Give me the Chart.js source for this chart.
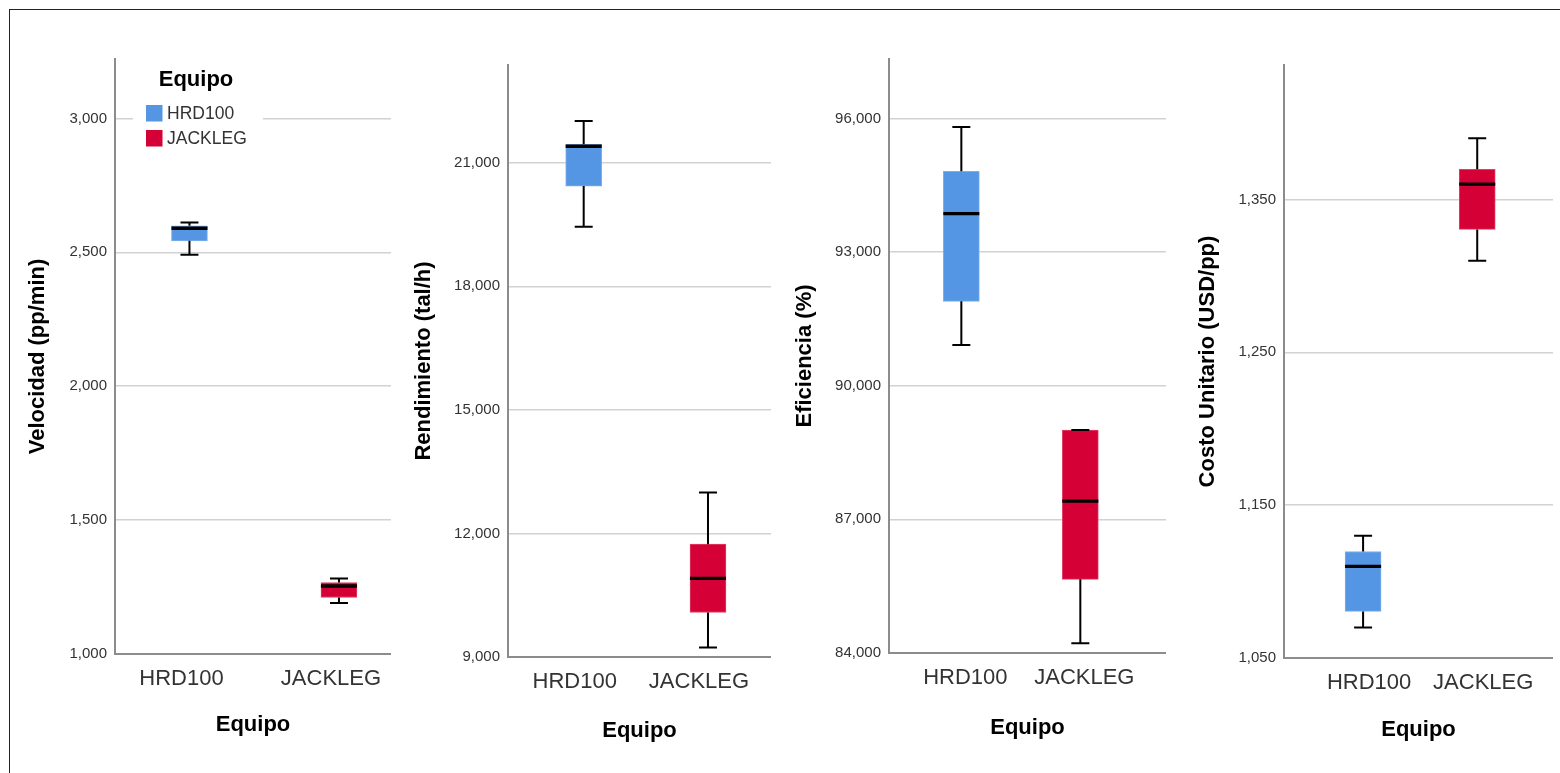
<!DOCTYPE html>
<html>
<head>
<meta charset="utf-8">
<script src="https://cdn.jsdelivr.net/npm/chart.js@4/dist/chart.umd.min.js"></script>
<style>
html,body{margin:0;padding:0;background:#fff;width:1560px;height:773px;overflow:hidden;}
#frame{position:absolute;left:9px;top:9px;width:1600px;height:800px;border-top:1px solid #222;border-left:1px solid #222;}
.panel{position:absolute;top:0;height:773px;}
</style>
</head>
<body>
<div id="frame"></div>
<div class="panel" style="left:12px;width:379px"><canvas id="c1"></canvas></div>
<div class="panel" style="left:400px;width:371px"><canvas id="c2"></canvas></div>
<div class="panel" style="left:780px;width:386px"><canvas id="c3"></canvas></div>
<div class="panel" style="left:1170px;width:383px"><canvas id="c4"></canvas></div>
<script>
// ---------- data ----------
const categories = ['HRD100', 'JACKLEG'];
const legendTitle = 'Equipo';
const xTitle = 'Equipo';

const velocidadTitle = 'Velocidad (pp/min)';
const velocidadMin = [2491, 1190];
const velocidadQ1 = [2543, 1211];
const velocidadMedian = [2590, 1254];
const velocidadQ3 = [2599, 1267];
const velocidadMax = [2611, 1282];
const velocidadTicks = [1000, 1500, 2000, 2500, 3000];

const rendimientoTitle = 'Rendimiento (tal/h)';
const rendimientoMin = [19446, 9231];
const rendimientoQ1 = [20434, 10081];
const rendimientoMedian = [21400, 10907];
const rendimientoQ3 = [21450, 11740];
const rendimientoMax = [22013, 12996];
const rendimientoTicks = [9000, 12000, 15000, 18000, 21000];

const eficienciaTitle = 'Eficiencia (%)';
const eficienciaMin = [90915, 84217];
const eficienciaQ1 = [91893, 85654];
const eficienciaMedian = [93861, 87411];
const eficienciaQ3 = [94811, 89004];
const eficienciaMax = [95807, 89004];
const eficienciaTicks = [84000, 87000, 90000, 93000, 96000];

const costoTitle = 'Costo Unitario (USD/pp)';
const costoMin = [1070, 1310];
const costoQ1 = [1080.5, 1330.4];
const costoMedian = [1110, 1360];
const costoQ3 = [1119.7, 1369.8];
const costoMax = [1130, 1390];
const costoTicks = [1050, 1150, 1250, 1350];

// ---------- styling ----------
const FONT = "'Liberation Sans', Arial, sans-serif";
Chart.defaults.font.family = FONT;
const fillColors = ['#5596E4', '#D50035'];
const edgeColors = ['#7DAFEB', '#E04068'];

function whiskerPlugin(s) {
  return {
    id: 'whiskers',
    afterDatasetsDraw(chart) {
      const ctx = chart.ctx, x = chart.scales.x, y = chart.scales.y;
      ctx.save();
      ctx.strokeStyle = '#000';
      categories.forEach((c, i) => {
        const px = x.getPixelForValue(i + 1);
        ctx.lineWidth = 2;
        ctx.beginPath();
        ctx.moveTo(px, y.getPixelForValue(s.max[i])); ctx.lineTo(px, y.getPixelForValue(s.q3[i]));
        ctx.moveTo(px, y.getPixelForValue(s.q1[i])); ctx.lineTo(px, y.getPixelForValue(s.min[i]));
        [s.max[i], s.min[i]].forEach(v => {
          const py = y.getPixelForValue(v);
          ctx.moveTo(px - 9, py); ctx.lineTo(px + 9, py);
        });
        ctx.stroke();
        ctx.lineWidth = 3.3;
        ctx.beginPath();
        const pm = y.getPixelForValue(s.median[i]);
        ctx.moveTo(px - 18, pm); ctx.lineTo(px + 18, pm);
        ctx.stroke();
      });
      ctx.restore();
    }
  };
}

const legendPlugin = {
  id: 'boxLegend',
  afterDraw(chart) {
    const ctx = chart.ctx;
    ctx.save();
    ctx.fillStyle = '#fff';
    ctx.fillRect(121, 48, 130, 102);
    ctx.fillStyle = '#000';
    ctx.font = 'bold 22px ' + FONT;
    ctx.textAlign = 'center';
    ctx.textBaseline = 'middle';
    ctx.fillText(legendTitle, 184, 80);
    ctx.textAlign = 'left';
    ctx.font = '17.5px ' + FONT;
    const ys = [113, 138];
    categories.forEach((c, i) => {
      ctx.fillStyle = fillColors[i];
      ctx.fillRect(134, ys[i] - 8, 16.5, 16.5);
      ctx.fillStyle = '#333';
      ctx.fillText(c, 155, ys[i] + 1.5);
    });
    ctx.restore();
  }
};

function makePanel(id, s, L, extraPlugins) {
  const boxData = categories.map((c, i) => ({ x: i + 1, y: [s.q1[i], s.q3[i]] }));
  return new Chart(document.getElementById(id), {
    type: 'bar',
    data: {
      datasets: [{
        data: boxData,
        backgroundColor: fillColors,
        borderColor: edgeColors,
        borderWidth: 1,
        borderSkipped: false,
        barThickness: 36,
        grouped: false
      }]
    },
    options: {
      responsive: true,
      maintainAspectRatio: false,
      animation: false,
      devicePixelRatio: 1,
      layout: { padding: { top: L.top, left: 0, right: 0, bottom: 0 } },
      plugins: { legend: { display: false }, tooltip: { enabled: false } },
      scales: {
        x: {
          type: 'linear',
          min: L.xMin, max: L.xMax,
          offset: false,
          afterBuildTicks: sc => { sc.ticks = categories.map((c, i) => ({ value: i + 1 })); },
          afterFit: sc => { sc.height = L.xh; sc.paddingLeft = 0; sc.paddingRight = 0; },
          grid: { display: false, drawTicks: false, offset: false },
          border: { display: true, color: '#8c8c8c', width: 2 },
          ticks: {
            callback: v => categories[Math.round(v) - 1] || '',
            font: { family: FONT, size: 22 }, color: '#333',
            padding: 12, labelOffset: L.labelOffset,
            maxRotation: 0, autoSkip: false
          },
          title: {
            display: true, text: xTitle,
            font: { family: FONT, size: 22, weight: 'bold' }, color: '#000',
            padding: { top: 0, bottom: L.xtPad }
          }
        },
        y: {
          type: 'linear',
          min: s.axisMin, max: s.axisMax,
          afterBuildTicks: sc => { sc.ticks = s.ticks.map(v => ({ value: v })); },
          afterFit: sc => { sc.width = L.yw; },
          grid: {
            color: ctx => (ctx.tick && ctx.tick.value === s.axisMin) ? 'rgba(0,0,0,0)' : '#d2d2d2',
            lineWidth: 1.5, drawTicks: false
          },
          border: { display: true, color: '#8c8c8c', width: 2 },
          ticks: {
            callback: v => Number(v).toLocaleString('en-US'),
            font: { family: FONT, size: 15 }, color: '#333', padding: 8
          },
          title: {
            display: true, text: s.title,
            font: { family: FONT, size: 22, weight: 'bold' }, color: '#000',
            padding: { top: L.ytPad, bottom: 0 }
          }
        }
      }
    },
    plugins: [whiskerPlugin(s)].concat(extraPlugins || [])
  });
}

makePanel('c1', {
  title: velocidadTitle, min: velocidadMin, q1: velocidadQ1, median: velocidadMedian,
  q3: velocidadQ3, max: velocidadMax, ticks: velocidadTicks, axisMin: 1000, axisMax: 3222
}, { top: 59, xh: 119, yw: 103, xMin: 0.502, xMax: 2.348, labelOffset: -8, xtPad: 35, ytPad: 13 }, [legendPlugin]);

makePanel('c2', {
  title: rendimientoTitle, min: rendimientoMin, q1: rendimientoQ1, median: rendimientoMedian,
  q3: rendimientoQ3, max: rendimientoMax, ticks: rendimientoTicks, axisMin: 9000, axisMax: 23373
}, { top: 65, xh: 116, yw: 108, xMin: 0.391, xMax: 2.507, labelOffset: -9, xtPad: 29, ytPad: 11 });

makePanel('c3', {
  title: eficienciaTitle, min: eficienciaMin, q1: eficienciaQ1, median: eficienciaMedian,
  q3: eficienciaQ3, max: eficienciaMax, ticks: eficienciaTicks, axisMin: 84000, axisMax: 97333
}, { top: 59, xh: 120, yw: 109, xMin: 0.392, xMax: 2.72, labelOffset: 4, xtPad: 32, ytPad: 12 });

makePanel('c4', {
  title: costoTitle, min: costoMin, q1: costoQ1, median: costoMedian,
  q3: costoQ3, max: costoMax, ticks: costoTicks, axisMin: 1050, axisMax: 1438
}, { top: 65, xh: 115, yw: 114, xMin: 0.307, xMax: 2.664, labelOffset: 6, xtPad: 30, ytPad: 25 });
</script>
</body>
</html>
